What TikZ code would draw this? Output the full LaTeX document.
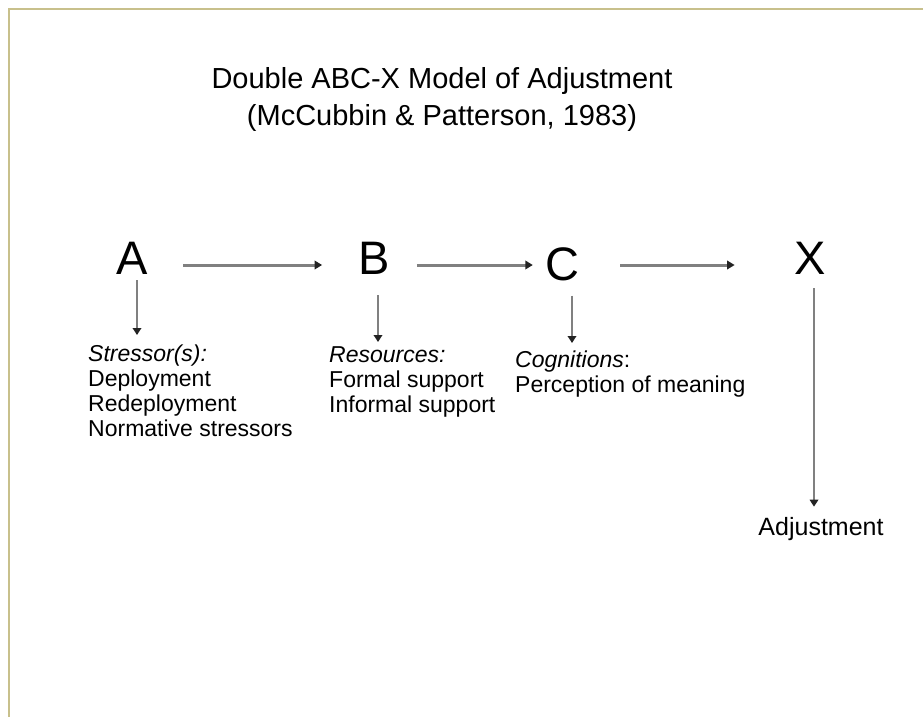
\documentclass[tikz,border=0pt]{standalone}
\usepackage{fontspec}
\setmainfont{Liberation Sans}
\usetikzlibrary{arrows.meta,calc}
\definecolor{framecol}{RGB}{200,192,140}
\definecolor{shaftcol}{RGB}{128,128,128}
\definecolor{tipcol}{RGB}{35,35,35}
\begin{document}
\begin{tikzpicture}[x=1pt,y=-1pt,
  letter/.style={font=\fontsize{47}{50}\selectfont, inner sep=0pt, anchor=base},
  block/.style={font=\fontsize{23}{25}\selectfont, inner sep=0pt, anchor=north west, align=left},
  arr/.style={draw=shaftcol, line width=3pt, -{Triangle[length=7.5pt,width=8.5pt,color=tipcol]}},
  varr/.style={draw=shaftcol, line width=2.6pt, -{Triangle[length=7pt,width=8.5pt,color=tipcol]}},
  frameline/.style={draw=framecol, line width=2.2pt}]
\useasboundingbox (0,0) rectangle (923,716);
\draw[frameline] (9,720) -- (9,9) -- (927,9);

\node[font=\fontsize{29}{37}\selectfont, inner sep=0pt, anchor=north, align=center] (title) at (442,67)
  {Double ABC-X Model of Adjustment\\(McCubbin \& Patterson, 1983)};

\node[letter] (A) at (132.5,274) {A};
\node[letter] (B) at (374,274) {B};
\node[letter] (C) at (562,280) {C};
\node[letter] (X) at (810.5,274) {X};

\node[block] (stress) at (88,345) {\textit{Stressor(s):}\\Deployment\\Redeployment\\Normative stressors};
\node[block] (res) at (329,346.5) {\textit{Resources:}\\Formal support\\Informal support};
\node[block] (cog) at (515,351) {\textit{Cognitions}:\\Perception of meaning};
\node[font=\fontsize{25}{28}\selectfont, inner sep=0pt, anchor=base] (adj) at (821,535) {Adjustment};

\coordinate (row) at (0,265);
\draw[arr] ($(A.east |- row)+(35,0)$) -- ($(B.west |- row)+(-36,0)$);
\draw[arr] ($(B.east |- row)+(27,0)$) -- ($(C.west |- row)+(-12,0)$);
\draw[arr] ($(C.east |- row)+(41,0)$) -- ($(X.west |- row)+(-60,0)$);

\coordinate (As) at ($(A.south)+(4.5,6)$);
\coordinate (Bs) at ($(B.south)+(4,21)$);
\coordinate (Cs) at ($(C.south)+(10,15)$);
\coordinate (Xs) at ($(X.south)+(3.5,14)$);
\draw[varr, shorten >=10pt] (As) -- (As |- stress.north);
\draw[varr, shorten >=4.5pt] (Bs) -- (Bs |- res.north);
\draw[varr, shorten >=8pt] (Cs) -- (Cs |- cog.north);
\draw[varr, shorten >=10pt] (Xs) -- (Xs |- adj.north);
\end{tikzpicture}
\end{document}
